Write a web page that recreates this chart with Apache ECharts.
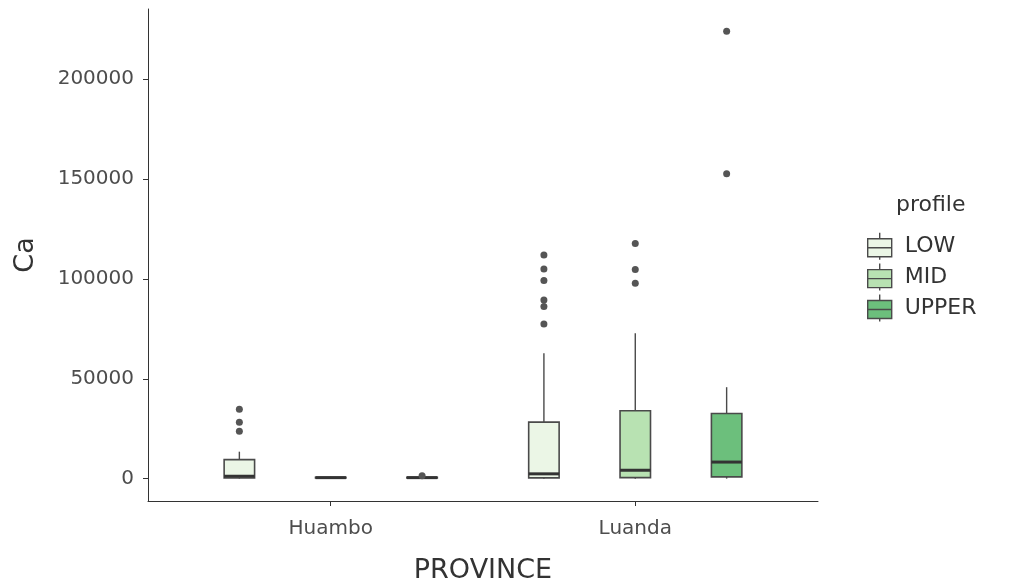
<!DOCTYPE html>
<html>
<head>
<meta charset="utf-8">
<script src="https://cdn.jsdelivr.net/npm/echarts@6/dist/echarts.min.js"></script>
<style>html,body{margin:0;padding:0;background:#fff}#c{width:1010px;height:588px}</style>
</head>
<body>
<div id="c"></div>
<script>
// ---- data ----
const categories = ['Huambo', 'Luanda'];
const profiles = ['LOW', 'MID', 'UPPER'];
// box stats per category: [min, Q1, median, Q3, max]
const lowStats   = [[0, 300, 1200, 9500, 13500], [0, 400, 2400, 28300, 62800]];
const midStats   = [[200, 300, 500, 700, 900], [0, 500, 4200, 34000, 72800]];
const upperStats = [[100, 300, 500, 700, 1000], [0, 900, 8300, 32600, 45800]];
// outliers per category
const lowOutliers   = [[23700, 28300, 34800], [77500, 86200, 89500, 99200, 105000, 112000]];
const midOutliers   = [[], [97800, 104800, 117800]];
const upperOutliers = [[1500], [152700, 224000]];
const yTicks = [0, 50000, 100000, 150000, 200000];
const fills = ['#ebf6e6', '#b8e2b2', '#6cbf7c'];

// ---- build ----
const statsList = [lowStats, midStats, upperStats];
const outList = [lowOutliers, midOutliers, upperOutliers];
const dodge = 0.3, halfW = 0.05;
const FONT = 'DejaVu Sans';
const STROKE = '#4a4a4a';

function renderBox(params, api) {
  const x = api.value(0);
  const mn = api.value(1), q1 = api.value(2), md = api.value(3), q3 = api.value(4), mx = api.value(5);
  const tl = api.coord([x - halfW, q3]);
  const br = api.coord([x + halfW, q1]);
  const top = api.coord([x, mx]);
  const bot = api.coord([x, mn]);
  const ml = api.coord([x - halfW, md]);
  const mr = api.coord([x + halfW, md]);
  const fill = api.visual('color');
  return {
    type: 'group',
    children: [
      {type: 'line', shape: {x1: top[0], y1: top[1], x2: top[0], y2: tl[1]}, style: {stroke: STROKE, lineWidth: 1.4}},
      {type: 'line', shape: {x1: bot[0], y1: br[1], x2: bot[0], y2: bot[1]}, style: {stroke: STROKE, lineWidth: 1.4}},
      {type: 'rect', shape: {x: tl[0], y: tl[1], width: br[0] - tl[0], height: Math.max(br[1] - tl[1], 0.5)},
        style: {fill: fill, stroke: STROKE, lineWidth: 1.6}},
      {type: 'line', shape: {x1: ml[0], y1: ml[1], x2: mr[0], y2: mr[1]}, style: {stroke: '#333', lineWidth: 3}}
    ]
  };
}

const series = [];
profiles.forEach(function (p, k) {
  const boxData = statsList[k].map(function (s, ci) {
    return [ci + 1 + (k - 1) * dodge].concat(s);
  });
  series.push({
    name: p, type: 'custom', renderItem: renderBox,
    itemStyle: {color: fills[k]},
    encode: {x: 0, y: [1, 2, 3, 4, 5]},
    data: boxData, z: 2
  });
  const pts = [];
  outList[k].forEach(function (arr, ci) {
    arr.forEach(function (v) { pts.push([ci + 1 + (k - 1) * dodge, v]); });
  });
  series.push({
    name: p + ' outliers', type: 'scatter', data: pts, symbolSize: 7,
    itemStyle: {color: '#555', opacity: 1}, z: 3, silent: true
  });
});

const iconPath = 'path://M12,0L12,6M0,6L24,6L24,24L0,24ZM0,15L24,15M12,24L12,27';

const option = {
  animation: false,
  backgroundColor: '#ffffff',
  grid: {left: 148, right: 192, top: 9, bottom: 87, containLabel: false, outerBoundsMode: 'none'},
  title: {text: 'profile', left: 891, top: 189,
    textStyle: {fontFamily: FONT, fontSize: 22, fontWeight: 'normal', color: '#333'}},
  legend: {
    orient: 'vertical', left: 862, top: 227, itemWidth: 24, itemHeight: 27, itemGap: 2.5,
    data: profiles.map(function (p) { return {name: p, icon: iconPath}; }),
    itemStyle: {borderColor: STROKE, borderWidth: 1.4},
    textStyle: {fontFamily: FONT, fontSize: 22, color: '#333', padding: [0, 0, 0, 8]},
    selectedMode: false
  },
  xAxis: {
    type: 'value', min: 0.4, max: 2.6,
    name: 'PROVINCE', nameLocation: 'middle', nameGap: 56,
    nameTextStyle: {fontFamily: FONT, fontSize: 27, color: '#333'},
    axisLine: {show: true, onZero: false, lineStyle: {color: '#333', width: 1}},
    axisTick: {show: true, length: 5, customValues: [1, 2], lineStyle: {color: '#333'}},
    axisLabel: {customValues: [1, 2], margin: 18, fontFamily: FONT, fontSize: 20, color: '#4d4d4d',
      formatter: function (v) { return categories[Math.round(v) - 1] || ''; }},
    splitLine: {show: false}
  },
  yAxis: {
    type: 'value', min: -11200, max: 235200,
    name: 'Ca', nameLocation: 'middle', nameGap: 109, nameRotate: 90,
    nameTextStyle: {fontFamily: FONT, fontSize: 27, color: '#333'},
    axisLine: {show: true, onZero: false, lineStyle: {color: '#333', width: 1}},
    axisTick: {show: true, length: 5, customValues: yTicks, lineStyle: {color: '#333'}},
    axisLabel: {customValues: yTicks, margin: 14, fontFamily: FONT, fontSize: 20, color: '#4d4d4d',
      formatter: function (v) { return String(v); }},
    splitLine: {show: false}
  },
  series: series
};

const chart = echarts.init(document.getElementById('c'), null, {renderer: 'canvas'});
chart.setOption(option);
</script>
</body>
</html>
